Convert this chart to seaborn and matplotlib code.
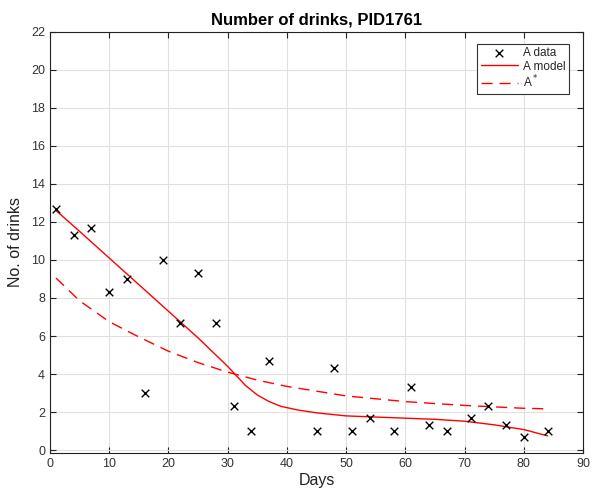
import matplotlib
matplotlib.use("Agg")
import matplotlib.pyplot as plt
import seaborn as sns
import pandas as pd

data_days = [1, 4, 7, 10, 13, 16, 19, 22, 25, 28, 31, 34, 37, 45, 48, 51, 54, 58, 61, 64, 67, 71, 74, 77, 80, 84]
data_vals = [12.67, 11.33, 11.67, 8.33, 9.0, 3.0, 10.0, 6.67, 9.33, 6.67, 2.33, 1.0, 4.67, 1.0, 4.33, 1.0, 1.67, 1.0, 3.33, 1.33, 1.0, 1.67, 2.33, 1.33, 0.67, 1.0]

model_days = [1, 5, 10, 15, 20, 25, 28, 30, 31.5, 33, 35, 37, 39, 42, 45, 50, 55, 60, 65, 70, 75, 80, 84]
model_vals = [12.6, 11.5, 10.1, 8.7, 7.3, 5.9, 5.0, 4.4, 3.9, 3.4, 2.9, 2.55, 2.3, 2.1, 1.96, 1.8, 1.74, 1.68, 1.62, 1.52, 1.33, 1.08, 0.75]

astar_days = [1, 5, 10, 15, 20, 25, 30, 35, 40, 50, 60, 70, 80, 84]
astar_vals = [9.05, 7.85, 6.75, 5.95, 5.2, 4.6, 4.1, 3.68, 3.35, 2.85, 2.55, 2.35, 2.2, 2.17]

sns.set_style("ticks")
plt.rcParams['font.family'] = ['Liberation Sans', 'DejaVu Sans']

fig = plt.figure(figsize=(5.92, 4.92), dpi=100)
ax = fig.add_axes([0.0845, 0.0793, 0.9005, 0.8563])

df_d = pd.DataFrame({"Days": data_days, "val": data_vals})
df_m = pd.DataFrame({"Days": model_days, "val": model_vals})
df_a = pd.DataFrame({"Days": astar_days, "val": astar_vals})

sns.scatterplot(data=df_d, x="Days", y="val", marker="x", color="black", s=30,
                linewidth=1.0, ax=ax, label="A data", zorder=3)
sns.lineplot(data=df_m, x="Days", y="val", color="red", linewidth=1.0, ax=ax,
             label="A model", zorder=2)
sns.lineplot(data=df_a, x="Days", y="val", color="red", linewidth=1.0, ax=ax,
             label="A$^*$", zorder=2, dashes=False)
ax.lines[-1].set_dashes([8, 5])

ax.set_xlim(0, 90)
ax.set_ylim(-0.15, 22)
ax.set_xticks(range(0, 91, 10))
ax.set_yticks(range(0, 23, 2))
ax.grid(True, color="#e0e0e0", linewidth=0.8)
ax.set_axisbelow(True)
ax.tick_params(direction="in", top=True, right=True, labelsize=9, length=4, width=0.8,
               colors="#222222", labelcolor="#333333")
for sp in ax.spines.values():
    sp.set_visible(True)
    sp.set_linewidth(0.8)
    sp.set_color("#222222")

ax.set_xlabel("Days", fontsize=11.5, labelpad=2, color="#222222")
ax.set_ylabel("No. of drinks", fontsize=11.5, labelpad=6, color="#222222")
ax.set_title("Number of drinks, PID1761", fontsize=12, fontweight="bold", pad=5, color="black")

leg = ax.legend(loc="upper right", bbox_to_anchor=(0.985, 0.985), fontsize=8.5, frameon=True,
                fancybox=False, edgecolor="#333333", framealpha=1, handlelength=3.2,
                borderpad=0.3, labelspacing=0.1, handletextpad=0.4)
leg.get_frame().set_linewidth(0.8)

fig.savefig("out.png", dpi=100)
